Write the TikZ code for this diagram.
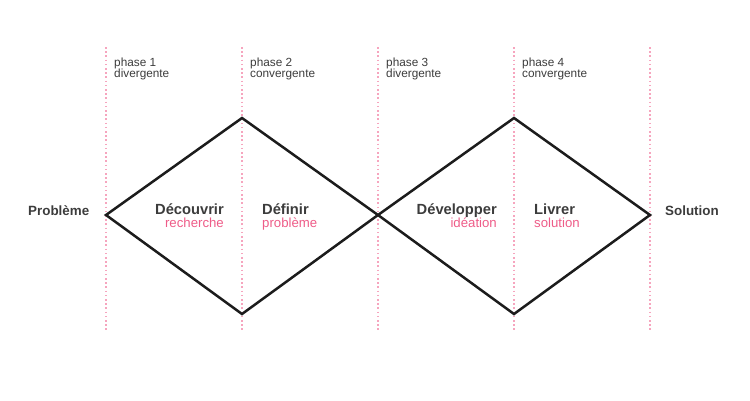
\documentclass[tikz,border=0pt]{standalone}
\usepackage{fontspec}
\setmainfont{Liberation Sans}
\definecolor{dotpink}{HTML}{F6A5BE}
\definecolor{txtpink}{HTML}{EE5C88}
\definecolor{txtgray}{HTML}{3C3C3C}
\definecolor{linedark}{HTML}{1C1C1C}
\begin{document}
\begin{tikzpicture}[x=1pt,y=-1pt,
  guide/.style={dotpink, line width=1.1pt, dash pattern=on 1.6pt off 2.6pt},
  diam/.style={linedark, line width=2.5pt, line join=miter},
  phasetxt/.style={inner sep=0pt, anchor=base west, text=txtgray, font=\fontsize{11.8}{10}\selectfont},
  title/.style={inner sep=0pt, text=txtgray, font=\fontsize{14.7}{15}\selectfont\bfseries},
  sub/.style={inner sep=0pt, text=txtpink, font=\fontsize{13.2}{13}\selectfont},
  endtxt/.style={inner sep=0pt, anchor=base west, text=txtgray, font=\fontsize{13.4}{13}\selectfont\bfseries}]
\useasboundingbox (0,0) rectangle (750,400);
% guide lines
\foreach \i/\x in {1/106,2/242,3/378,4/514,5/650}{
  \coordinate (gt\i) at (\x,47);
  \coordinate (gb\i) at (\x,331);
  \draw[guide] (gt\i) -- (gb\i);
}
% diamond vertices
\coordinate (L) at (106,215);
\coordinate (T1) at (242,118);
\coordinate (B1) at (242,314);
\coordinate (M) at (378,215);
\coordinate (T2) at (514,118);
\coordinate (B2) at (514,314);
\coordinate (R) at (650,215);
\draw[diam] (L) -- (T1) -- (M) -- (B1) -- cycle;
\draw[diam] (M) -- (T2) -- (R) -- (B2) -- cycle;
% phase labels
\node[phasetxt] (p1a) at (114,66) {phase 1};
\node[phasetxt] (p1b) at (114,77.5) {divergente};
\node[phasetxt] (p2a) at (250,66) {phase 2};
\node[phasetxt] (p2b) at (250,77.5) {convergente};
\node[phasetxt] (p3a) at (386,66) {phase 3};
\node[phasetxt] (p3b) at (386,77.5) {divergente};
\node[phasetxt] (p4a) at (522,66) {phase 4};
\node[phasetxt] (p4b) at (522,77.5) {convergente};
% main labels
\node[title, anchor=base east] (decouvrir) at (224,214) {Découvrir};
\node[sub, anchor=base east] (recherche) at (224,227.5) {recherche};
\node[title, anchor=base west] (definir) at (262,214) {Définir};
\node[sub, anchor=base west] (probleme) at (262,227.5) {problème};
\node[title, anchor=base east] (developper) at (497,214) {Développer};
\node[sub, anchor=base east] (ideation) at (497,227.5) {idéation};
\node[title, anchor=base west] (livrer) at (534,214) {Livrer};
\node[sub, anchor=base west] (solution) at (534,227.5) {solution};
% ends
\node[endtxt] (Probleme) at (28,215) {Problème};
\node[endtxt] (Solution) at (665,215) {Solution};
\end{tikzpicture}
\end{document}
